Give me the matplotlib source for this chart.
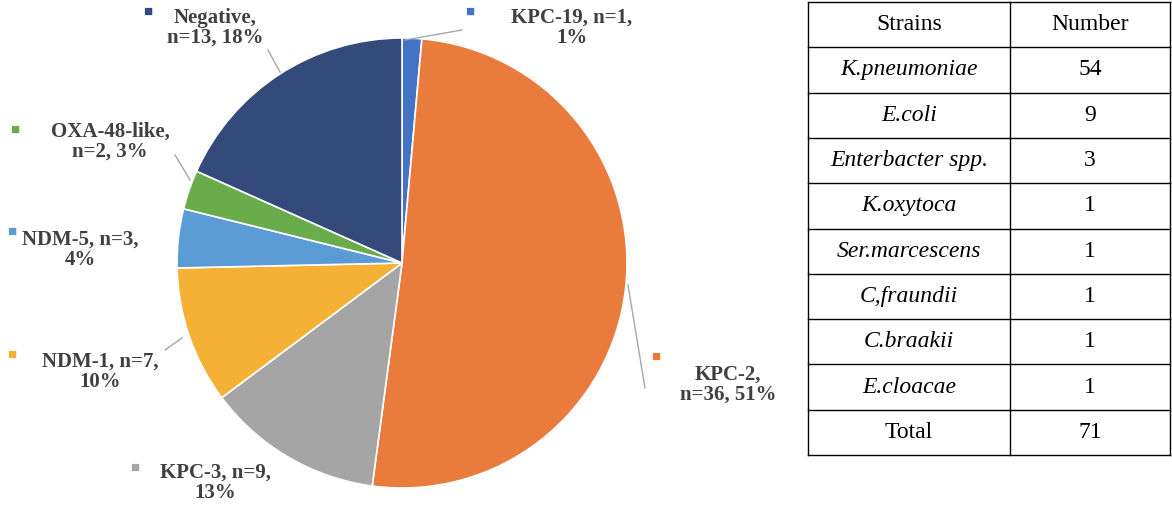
import matplotlib.pyplot as plt

plt.rcParams['font.family'] = 'Liberation Serif'

W, H = 1172, 516

# pie data (clockwise from 12 o'clock)
labels = ['KPC-19, n=1,\n1%', 'KPC-2,\nn=36, 51%', 'KPC-3, n=9,\n13%', 'NDM-1, n=7,\n10%',
          'NDM-5, n=3,\n4%', 'OXA-48-like,\nn=2, 3%', 'Negative,\nn=13, 18%']
counts = [1, 36, 9, 7, 3, 2, 13]
colors = ['#4472C4', '#E97B3D', '#A5A5A5', '#F4B135', '#5B9BD5', '#6AAB4B', '#344A7A']

# table data
strains = ['K.pneumoniae', 'E.coli', 'Enterbacter spp.', 'K.oxytoca', 'Ser.marcescens',
           'C,fraundii', 'C.braakii', 'E.cloacae']
numbers = [54, 9, 3, 1, 1, 1, 1, 1]
total = 71

fig = plt.figure(figsize=(W / 100, H / 100), dpi=100)


def fx(px):
    return px / W


def fy(py):
    return 1 - py / H


cx, cy, r = 402, 263, 225
ax = fig.add_axes([fx(cx - r), fy(cy + r), 2 * r / W, 2 * r / H])
wedges, _ = ax.pie(counts, colors=colors, startangle=90, counterclock=False, radius=1,
                   wedgeprops=dict(edgecolor='white', linewidth=1.2))
ax.set_xlim(-1, 1)
ax.set_ylim(-1, 1)
ax.set_aspect('auto')

# label text center, square marker position, leader end (pixels)
text_pos = [(572, 28), (728, 385), (215, 483), (100, 372), (80, 250), (110, 142), (215, 28)]
sq_pos = [(470, 12), (656, 357), (135, 468), (12, 355), (12, 232), (15, 130), (148, 12)]
lead_end = [(462, 30), (645, 388), (None), (165, 350), None, (175, 155), (268, 50)]
lead_start = [(405, 40), (628, 285), None, (182, 338), None, (190, 180), (280, 72)]

for lab, c, tp, sp in zip(labels, colors, text_pos, sq_pos):
    fig.text(fx(tp[0]), fy(tp[1]), lab, ha='center', va='center', fontsize=15,
             fontweight='bold', color='#404040', linespacing=1.0)
    fig.text(fx(sp[0]), fy(sp[1]), '\u25A0', ha='center', va='center', fontsize=11, color=c)

for s, e in zip(lead_start, lead_end):
    if s is None:
        continue
    fig.add_artist(plt.Line2D([fx(s[0]), fx(e[0])], [fy(s[1]), fy(e[1])],
                              transform=fig.transFigure, color='#A6A6A6', lw=1))

# table
tx0, tx1, tsplit, ty0, ty1 = 808, 1170, 1010, 2, 455
rows = [('Strains', 'Number', False)] + [(s, str(n), True) for s, n in zip(strains, numbers)] \
       + [('Total', str(total), False)]
nr = len(rows)
rh = (ty1 - ty0) / nr
for i in range(nr + 1):
    y = ty0 + i * rh
    fig.add_artist(plt.Line2D([fx(tx0), fx(tx1)], [fy(y), fy(y)], transform=fig.transFigure,
                              color='black', lw=1))
for x in (tx0, tsplit, tx1):
    fig.add_artist(plt.Line2D([fx(x), fx(x)], [fy(ty0), fy(ty1)], transform=fig.transFigure,
                              color='black', lw=1))
for i, (a, b, it) in enumerate(rows):
    y = ty0 + (i + 0.5) * rh
    fig.text(fx((tx0 + tsplit) / 2), fy(y), a, ha='center', va='center', fontsize=17,
             style='italic' if it else 'normal')
    fig.text(fx((tsplit + tx1) / 2), fy(y), b, ha='center', va='center', fontsize=17)

fig.savefig('out.png', dpi=100)
